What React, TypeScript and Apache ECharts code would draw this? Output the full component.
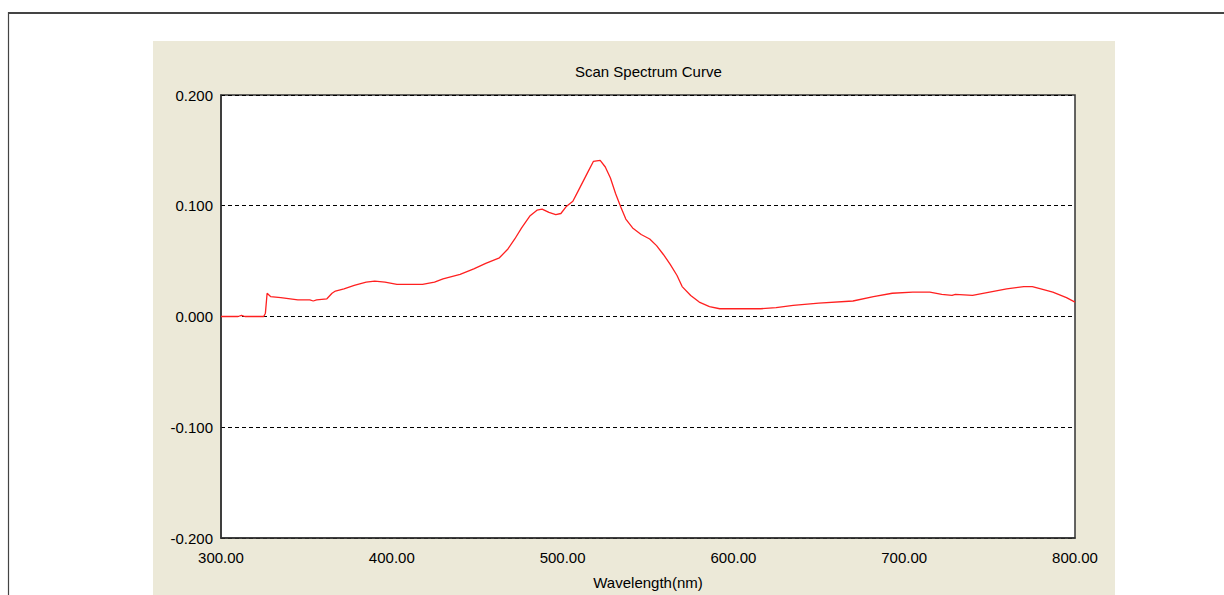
import React, { useEffect, useRef } from "react";
import * as echarts from "echarts";

const wavelengths = [
  300, 305, 310, 312, 314, 318, 325, 326, 327, 329, 335, 345, 352, 354, 356, 362,
  365, 367, 372, 378, 385, 390, 396, 403, 410, 418, 425, 430, 440, 448, 455, 463,
  468, 472, 476, 481, 485, 488, 492, 496, 499, 502, 506, 509, 512, 515, 518, 522,
  525, 528, 531, 534, 537, 541, 546, 551, 555, 559, 563, 567, 570, 575, 580, 586,
  592, 600, 616, 625, 635, 650, 670, 682, 693, 705, 715, 722, 728, 730, 740, 750,
  760, 770, 775, 780, 787, 795, 800,
];
const absorbance = [
  0.0, 0.0, 0.0, 0.001, 0.0, 0.0, 0.0, 0.003, 0.021, 0.018, 0.017, 0.015, 0.015, 0.014, 0.015, 0.016,
  0.021, 0.023, 0.025, 0.028, 0.031, 0.032, 0.031, 0.029, 0.029, 0.029, 0.031, 0.034, 0.038, 0.043, 0.048, 0.053,
  0.061, 0.07, 0.08, 0.091, 0.096, 0.097, 0.094, 0.092, 0.093, 0.099, 0.104, 0.113, 0.122, 0.131, 0.14, 0.141,
  0.135, 0.125, 0.111, 0.099, 0.088, 0.08, 0.074, 0.07, 0.064, 0.056, 0.047, 0.037, 0.027, 0.019, 0.013, 0.009,
  0.007, 0.007, 0.007, 0.008, 0.01, 0.012, 0.014, 0.018, 0.021, 0.022, 0.022, 0.02, 0.019, 0.02, 0.019, 0.022,
  0.025, 0.027, 0.027, 0.025, 0.022, 0.017, 0.013,
];

const titleText = "Scan Spectrum Curve";
const xAxisName = "Wavelength(nm)";
const xMin = 300;
const xMax = 800;
const xStep = 100;
const yMin = -0.2;
const yMax = 0.2;
const yStep = 0.1;

const FONT = "'Liberation Sans', Arial, sans-serif";

export default function App() {
  const ref = useRef<HTMLDivElement>(null);
  useEffect(() => {
    if (!ref.current) return;
    const chart = echarts.init(ref.current, null, { renderer: "svg" });
    const data = wavelengths.map((w, i) => [w, absorbance[i]]);
    chart.setOption({
      animation: false,
      backgroundColor: "#ffffff",
      graphic: [
        {
          type: "rect",
          z: -10,
          silent: true,
          shape: { x: 153, y: 41, width: 962, height: 560 },
          style: { fill: "#ECE9D8" },
        },
        {
          type: "line",
          silent: true,
          shape: { x1: 8, y1: 13, x2: 1224, y2: 13 },
          style: { stroke: "#444444", lineWidth: 2 },
        },
        {
          type: "line",
          silent: true,
          shape: { x1: 8.5, y1: 12, x2: 8.5, y2: 595 },
          style: { stroke: "#444444", lineWidth: 1.2 },
        },
      ],
      title: {
        text: titleText,
        left: 575,
        top: 64,
        padding: 0,
        textStyle: { fontFamily: FONT, fontSize: 15, fontWeight: "normal", color: "#000" },
      },
      grid: {
        left: 221,
        top: 95,
        right: 149,
        bottom: 54,
        show: true,
        backgroundColor: "#ffffff",
        borderColor: "#333333",
        borderWidth: 1.5,
        containLabel: false,
      },
      xAxis: {
        type: "value",
        min: xMin,
        max: xMax,
        interval: xStep,
        name: xAxisName,
        nameLocation: "middle",
        nameGap: 37,
        nameTextStyle: { fontFamily: FONT, fontSize: 15, color: "#000" },
        axisLine: { show: true, onZero: false, lineStyle: { color: "#333333", width: 1.5 } },
        axisTick: { show: false },
        splitLine: { show: false },
        axisLabel: {
          fontFamily: FONT,
          fontSize: 15,
          color: "#000",
          margin: 12,
          formatter: (v: number) => v.toFixed(2),
        },
      },
      yAxis: {
        type: "value",
        min: yMin,
        max: yMax,
        interval: yStep,
        axisLine: { show: true, onZero: false, lineStyle: { color: "#333333", width: 1.5 } },
        axisTick: { show: false },
        splitLine: { show: true, lineStyle: { color: "#000", width: 1, type: [4, 3] } },
        axisLabel: {
          fontFamily: FONT,
          fontSize: 15,
          color: "#000",
          margin: 8,
          formatter: (v: number) => v.toFixed(3),
        },
      },
      series: [
        {
          type: "line",
          data,
          showSymbol: false,
          symbol: "none",
          lineStyle: { color: "#ff2020", width: 1.3 },
          z: 5,
        },
      ],
    });
    return () => chart.dispose();
  }, []);
  return (
    <div
      ref={ref}
      style={{ position: "absolute", left: 0, top: 0, width: 1224, height: 595 }}
    />
  );
}
